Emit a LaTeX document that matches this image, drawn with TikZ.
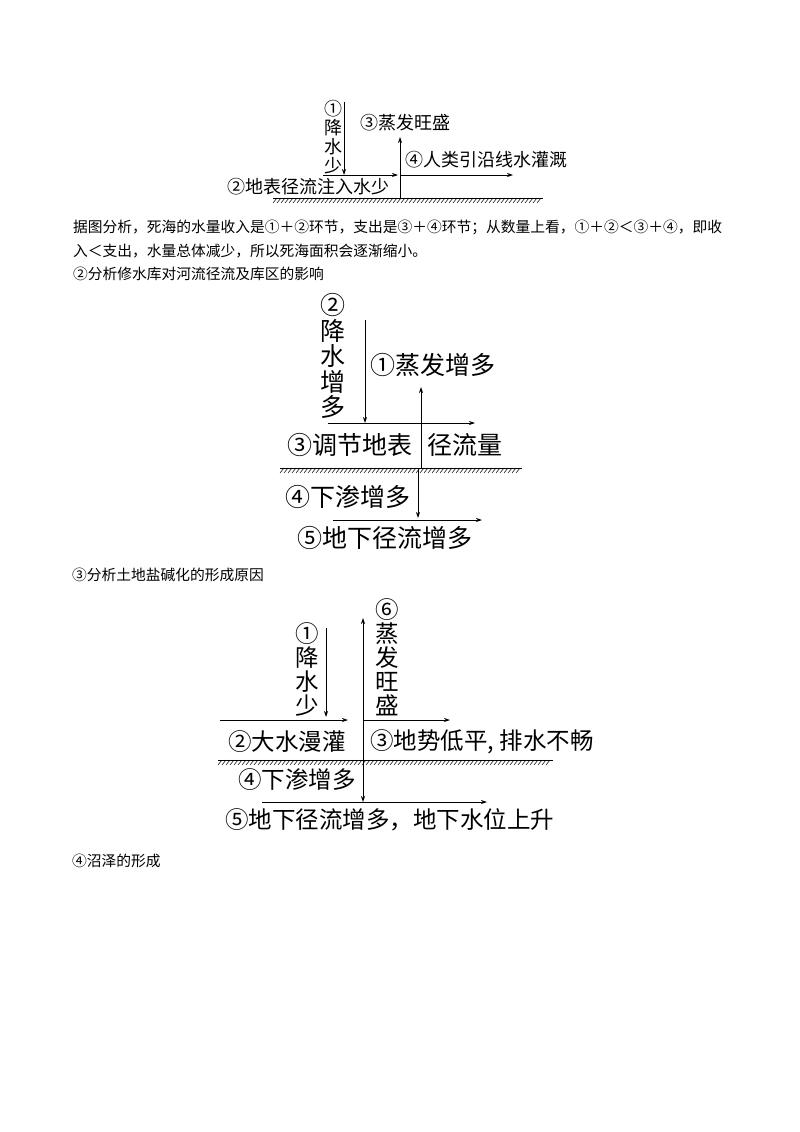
\documentclass[tikz,border=0pt]{standalone}
\usepackage{fontspec}
\setmainfont{Noto Sans CJK SC}
\usetikzlibrary{arrows.meta}

\begin{document}
\begin{tikzpicture}[x=1pt,y=-1pt,
  flow/.style={line width=0.8pt,-{Stealth[length=6pt,width=4pt]}},
  ground/.style={line width=0.8pt},
  hatch/.style={line width=0.5pt},
  body/.style={anchor=west,inner sep=0pt,font=\fontsize{14.75}{18}\selectfont},
  labA/.style={inner sep=0pt,align=center,font=\fontsize{18}{19}\selectfont},
  labB/.style={inner sep=0pt,align=center,font=\fontsize{25}{25.5}\selectfont},
  labC/.style={inner sep=0pt,align=center,font=\fontsize{23.5}{24}\selectfont}]
\useasboundingbox (0,0) rectangle (800,1132);

% first diagram: Dead Sea
\node[labA] (rain1) at (333,137) {①\\降\\水\\少};
\node[labA,anchor=west] (evap1) at (360,123) {③蒸发旺盛};
\node[labA,anchor=west] (irri1) at (405,160) {④人类引沿线水灌溉};
\node[labA,anchor=west] (runoff1) at (227,187) {②地表径流注入水少};
\coordinate (r1top) at (344,102);
\coordinate (r1bot) at (344,175);
\coordinate (s1a) at (323,175);
\coordinate (s1b) at (398,175);
\coordinate (e1bot) at (400,198);
\coordinate (e1top) at (400,137);
\coordinate (i1a) at (400,175);
\coordinate (i1b) at (513,175);
\draw[flow] (r1top) -- (r1bot);
\draw[flow] (s1a) -- (s1b);
\draw[flow] (e1bot) -- (e1top);
\draw[flow] (i1a) -- (i1b);
\draw[ground] (273,198) -- (543,198);
\foreach \x in {273,277,...,539} \draw[hatch] (\x,203) -- (\x+4,198);

% text
\node[body] (t1) at (73,227) {据图分析，死海的水量收入是①＋②环节，支出是③＋④环节；从数量上看，①＋②＜③＋④，即收};
\node[body] (t2) at (73,251) {入＜支出，水量总体减少，所以死海面积会逐渐缩小。};
\node[body] (t3) at (73,274) {②分析修水库对河流径流及库区的影响};

% second diagram: reservoir
\node[labB] (rain2) at (333,356) {②\\降\\水\\增\\多};
\node[labB,anchor=west] (evap2) at (370,365) {①蒸发增多};
\node[labB,anchor=west] (adj2a) at (287,445) {③调节地表};
\node[labB,anchor=west] (adj2b) at (427,445) {径流量};
\node[labB,anchor=west] (inf2) at (285,497) {④下渗增多};
\node[labB,anchor=west] (sub2) at (297,538) {⑤地下径流增多};
\coordinate (r2top) at (365,320);
\coordinate (r2bot) at (365,423);
\coordinate (s2a) at (328,423);
\coordinate (s2b) at (475,423);
\coordinate (e2bot) at (421,468);
\coordinate (e2top) at (421,387);
\coordinate (d2top) at (418,468);
\coordinate (d2bot) at (418,518);
\coordinate (g2a) at (333,520);
\coordinate (g2b) at (482,520);
\draw[flow] (r2top) -- (r2bot);
\draw[flow] (s2a) -- (s2b);
\draw[flow] (e2bot) -- (e2top);
\draw[flow] (d2top) -- (d2bot);
\draw[flow] (g2a) -- (g2b);
\draw[ground] (280,468) -- (522,468);
\foreach \x in {280,284,...,518} \draw[hatch] (\x,473) -- (\x+4,468);

\node[body] (t4) at (72,575) {③分析土地盐碱化的形成原因};

% third diagram: salinization
\node[labC] (evap3) at (387,657) {⑥\\蒸\\发\\旺\\盛};
\node[labC] (rain3) at (307,669) {①\\降\\水\\少};
\node[labC,anchor=west] (irri3) at (228,742) {②大水漫灌};
\node[labC,anchor=west] (low3) at (370,742) {③地势低平, 排水不畅};
\node[labC,anchor=west] (inf3) at (238,780) {④下渗增多};
\node[labC,anchor=west] (sub3) at (225,820) {⑤地下径流增多，地下水位上升};
\coordinate (r3top) at (326,628);
\coordinate (r3bot) at (326,717);
\coordinate (s3a) at (220,720);
\coordinate (s3b) at (348,720);
\coordinate (e3bot) at (363,760);
\coordinate (e3top) at (363,618);
\coordinate (l3a) at (363,720);
\coordinate (l3b) at (450,720);
\coordinate (d3bot) at (363,802);
\coordinate (g3a) at (262,802);
\coordinate (g3b) at (487,802);
\draw[flow] (r3top) -- (r3bot);
\draw[flow] (s3a) -- (s3b);
\draw[flow] (e3bot) -- (e3top);
\draw[flow] (l3a) -- (l3b);
\draw[flow] (e3bot) -- (d3bot);
\draw[flow] (g3a) -- (g3b);
\draw[ground] (218,760) -- (553,760);
\foreach \x in {218,222,...,549} \draw[hatch] (\x,765) -- (\x+4,760);

\node[body] (t5) at (72,861) {④沼泽的形成};

\end{tikzpicture}
\end{document}
